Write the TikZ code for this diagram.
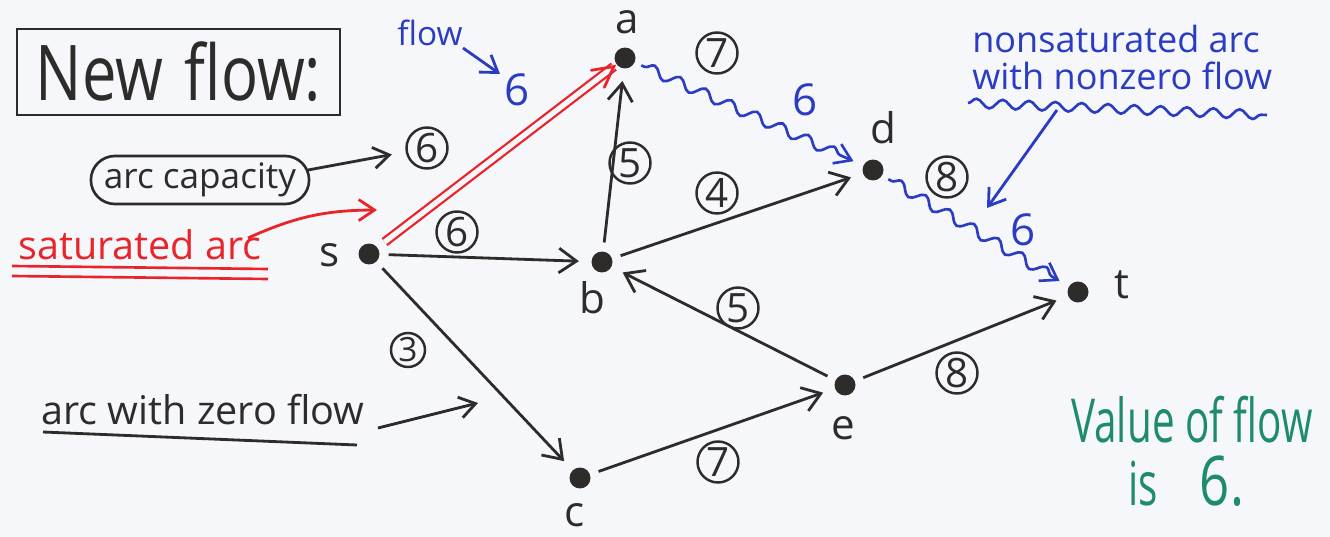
\documentclass[tikz,border=0pt]{standalone}
\usepackage{fontspec}
\setmainfont{Open Sans}
\usetikzlibrary{arrows.meta,decorations.pathmorphing,calc,shapes.misc}
\definecolor{ink}{HTML}{2E2B2B}
\definecolor{redink}{HTML}{E8252B}
\definecolor{blueink}{HTML}{2A3CC4}
\definecolor{greenink}{HTML}{1E8C6C}
\definecolor{paper}{HTML}{F6F7FA}
\begin{document}
\begin{tikzpicture}[x=0.02cm,y=-0.02cm,
  dot/.style={circle, fill=ink, inner sep=0pt, minimum size=0.42cm},
  vlabel/.style={font=\fontsize{24}{26}\selectfont, text=ink, inner sep=0pt},
  capc/.style={circle, draw=ink, line width=1.4pt, inner sep=0pt, minimum size=0.82cm, font=\fontsize{23}{24}\selectfont, text=ink},
  arcz/.style={draw=ink, line width=1.6pt, -{Straight Barb[length=10pt,width=14pt]}, shorten <=5pt, shorten >=7pt},
  wavy/.style={draw=blueink, line width=1.5pt, -{Straight Barb[length=9pt,width=12pt]}, decorate, decoration={snake, amplitude=3pt, segment length=16pt, pre length=6pt, post length=9pt}, shorten <=4pt, shorten >=6pt},
  note/.style={inner sep=0pt, font=\fontsize{20.5}{25}\selectfont},
  pen/.style={line width=1.6pt, -{Straight Barb[length=9pt,width=12pt]}}
]
\fill[paper] (0,0) rectangle (1330,537);
\useasboundingbox (0,0) rectangle (1330,537);

% vertices
\node[dot] (s) at (369,254) {};
\node[dot] (a) at (625,58) {};
\node[dot] (b) at (602,262) {};
\node[dot] (c) at (580,478) {};
\node[dot] (d) at (873,170) {};
\node[dot] (e) at (845,385) {};
\node[dot] (t) at (1078,292) {};

\node[vlabel] (ls) at (330,255) {s};
\node[vlabel] (la) at (627,22) {a};
\node[vlabel] (lb) at (592,298) {b};
\node[vlabel] (lc) at (575,515) {c};
\node[vlabel] (ld) at (883,128) {d};
\node[vlabel] (le) at (843,428) {e};
\node[vlabel] (lt) at (1122,285) {t};

% arcs
\draw[arcz] (s) -- (b);
\draw[arcz] (s) -- (c);
\draw[arcz] (b) -- (a);
\draw[arcz] (b) -- (d);
\draw[arcz] (e) -- (b);
\draw[arcz] (c) -- (e);
\draw[arcz] (e) -- (t);
\draw[wavy] (a) -- (d);
\draw[wavy] (d) -- (t);

% saturated arc s -> a
\coordinate (atip) at ($(a)!8pt!(s)$);
\draw[redink, line width=1.3pt, double=paper, double distance=3pt, shorten <=5pt] (s) -- (atip);
\draw[redink, line width=1.6pt, line cap=round] ($(atip)!13pt!-28:(s)$) -- (atip) -- ($(atip)!13pt!28:(s)$);

% capacities
\node[capc] (k1) at (427,148) {6};
\node[capc] (k2) at (457,232) {6};
\node[capc] (k3) at (717,53) {7};
\node[capc] (k4) at (630,163) {5};
\node[capc] (k5) at (717,193) {4};
\node[capc] (k6) at (947,177) {8};
\node[capc] (k7) at (738,308) {5};
\node[capc] (k8) at (957,373) {8};
\node[capc, minimum size=0.68cm, font=\fontsize{19}{20}\selectfont] (k9) at (408,350) {3};
\node[capc] (k10) at (718,462) {7};

% flows
\node[note, text=blueink, font=\fontsize{25}{26}\selectfont] (f1) at (517,90) {6};
\node[note, text=blueink, font=\fontsize{25}{26}\selectfont] (f2) at (805,100) {6};
\node[note, text=blueink, font=\fontsize{25}{26}\selectfont] (f3) at (1023,230) {6};

% title
\node[draw=ink, line width=1.6pt, minimum width=6.46cm, minimum height=1.72cm, text=ink,
      font=\fontsize{35}{40}\selectfont] (title) at (178.5,72) {\scalebox{1}[1.25]{New\hspace{0.35em}flow:}};

% arc capacity legend
\node[rounded rectangle, draw=ink, line width=1.5pt, minimum width=4.32cm, minimum height=0.96cm,
      text=ink, font=\fontsize{20}{22}\selectfont] (capbox) at (200,180) {arc capacity};
\coordinate (capout) at (308,170);
\draw[pen, draw=ink, shorten >=8pt] (capout) -- (k1);

% saturated arc legend
\node[note, text=redink, font=\fontsize{22.5}{26}\selectfont] (sat) at (140,245) {saturated arc};
\draw[redink, line width=1.5pt] (12,266) -- (268,269);
\draw[redink, line width=1.5pt] (12,276) -- (268,279);
\coordinate (satfrom) at (248,238);
\coordinate (satto) at (377,210);
\draw[pen, draw=redink] (satfrom) to[bend left=12] (satto);

% zero flow legend
\node[note, text=ink, font=\fontsize{22.5}{26}\selectfont] (zero) at (203,410) {arc with zero flow};
\draw[ink, line width=1.6pt] (43,432) -- (357,445);
\coordinate (zfrom) at (378,428);
\coordinate (zto) at (478,403);
\draw[pen, draw=ink] (zfrom) -- (zto);

% flow legend
\node[note, text=blueink, font=\fontsize{19}{22}\selectfont] (flowlbl) at (430,33) {flow};
\coordinate (flfrom) at (463,48);
\coordinate (flto) at (500,74);
\draw[pen, draw=blueink] (flfrom) -- (flto);

% nonsaturated legend
\node[note, text=blueink, anchor=base west] (nons1) at (972,53) {nonsaturated arc};
\node[note, text=blueink, anchor=base west] (nons2) at (972,90) {with nonzero flow};
\coordinate (ul1) at (968,103);
\coordinate (ul2) at (1267,115);
\draw[blueink, line width=1.5pt, decorate, decoration={snake, amplitude=2.6pt, segment length=15pt}] (ul1) -- (ul2);
\coordinate (nfrom) at (1057,110);
\coordinate (nto) at (987,208);
\draw[pen, draw=blueink] (nfrom) -- (nto);

% value
\node[note, text=greenink, font=\fontsize{23}{28}\selectfont] (val1) at (1192,420) {\scalebox{1}[1.5]{Value of flow}};
\node[note, text=greenink, anchor=base, font=\fontsize{23}{28}\selectfont] (val2a) at (1143,505) {\scalebox{1}[1.5]{is}};
\node[note, text=greenink, anchor=base, font=\fontsize{30}{32}\selectfont] (val2b) at (1222,505) {\scalebox{1}[1.3]{6.}};
\end{tikzpicture}
\end{document}
